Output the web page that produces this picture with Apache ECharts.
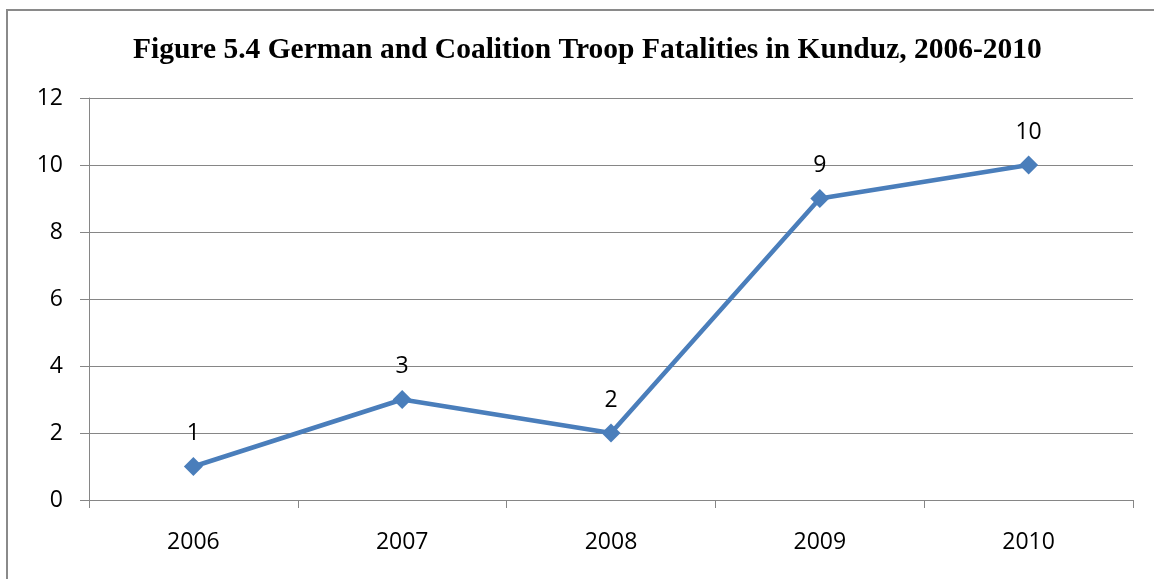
<!DOCTYPE html>
<html>
<head>
<meta charset="utf-8">
<script src="https://cdn.jsdelivr.net/npm/echarts@6/dist/echarts.min.js"></script>
<style>
  html, body { margin: 0; padding: 0; background: #fff; overflow: hidden; }
  #frame {
    position: absolute; left: 6px; top: 9px;
    width: 2000px; height: 2000px;
    border: 2px solid #8a8a8a;
  }
  #chart { position: absolute; left: 0; top: 0; width: 1154px; height: 579px; }
</style>
</head>
<body>
<div id="frame"></div>
<div id="chart"></div>
<script>
// chart data
var years = ['2006', '2007', '2008', '2009', '2010']
var fatalities = [1, 3, 2, 9, 10]
var titleText = 'Figure 5.4 German and Coalition Troop Fatalities in Kunduz, 2006-2010'

var myChart = echarts.init(document.getElementById('chart'))
var labelFont = 'Open Sans'

var option = {
  animation: false,
  title: {
    text: titleText,
    left: 128,
    top: 30,
    textStyle: {
      fontFamily: 'Liberation Serif',
      fontWeight: 'bold',
      fontSize: 29.5,
      color: '#000'
    }
  },
  grid: {
    left: 89,
    right: 21,
    top: 98,
    bottom: 79
  },
  xAxis: {
    type: 'category',
    data: years,
    boundaryGap: true,
    axisLine: { lineStyle: { color: '#868686', width: 1 } },
    axisTick: { show: true, length: 8, lineStyle: { color: '#868686' } },
    axisLabel: {
      margin: 31,
      fontFamily: labelFont,
      fontSize: 23,
      color: '#000'
    }
  },
  yAxis: {
    type: 'value',
    min: 0,
    max: 12,
    interval: 2,
    axisLine: { show: true, lineStyle: { color: '#868686', width: 1 } },
    axisTick: { show: true, length: 9, lineStyle: { color: '#868686' } },
    splitLine: { show: true, lineStyle: { color: '#868686', width: 1 } },
    axisLabel: {
      margin: 26,
      fontFamily: labelFont,
      fontSize: 23,
      color: '#000'
    }
  },
  series: [
    {
      type: 'line',
      data: fatalities,
      symbol: 'diamond',
      symbolSize: 19,
      lineStyle: { color: '#4a7ebb', width: 4.5 },
      itemStyle: { color: '#4a7ebb' },
      label: {
        show: true,
        position: 'top',
        distance: 12,
        fontFamily: labelFont,
        fontSize: 23,
        color: '#000'
      }
    }
  ]
}

myChart.setOption(option)
</script>
</body>
</html>
